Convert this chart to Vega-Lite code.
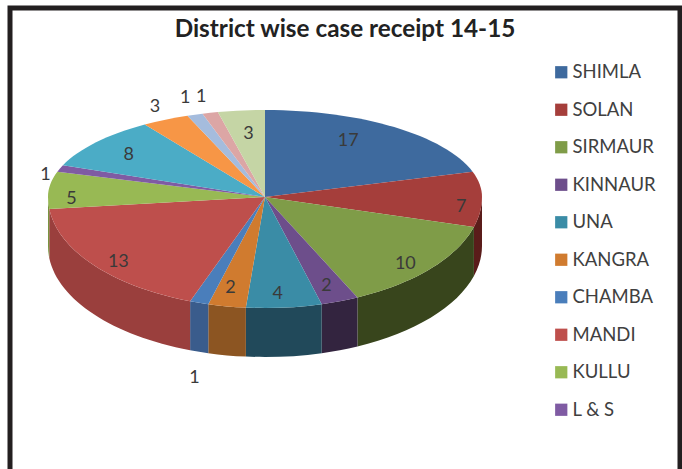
{
"$schema":"https://vega.github.io/schema/vega-lite/v6.json",
"autosize":"none",
"padding":{"left":10,"top":8,"right":2,"bottom":-4},
"width":670,"height":465,
"background":"white",
"view":{"stroke":"#231f20","strokeWidth":5},
"title":{"text":"District wise case receipt 14-15","font":"Lato","fontWeight":"bold","fontSize":24.3,"color":"#222222","anchor":"middle","dy":38,"dx":0},
"data":{"values":[
{"order":1,"district":"SHIMLA","value":17},
{"order":2,"district":"SOLAN","value":7},
{"order":3,"district":"SIRMAUR","value":10},
{"order":4,"district":"KINNAUR","value":2},
{"order":5,"district":"UNA","value":4},
{"order":6,"district":"KANGRA","value":2},
{"order":7,"district":"CHAMBA","value":1},
{"order":8,"district":"MANDI","value":13},
{"order":9,"district":"KULLU","value":5},
{"order":10,"district":"L & S","value":1},
{"order":11,"district":"Series 11","value":8},
{"order":12,"district":"Series 12","value":3},
{"order":13,"district":"Series 13","value":1},
{"order":14,"district":"Series 14","value":1},
{"order":15,"district":"Series 15","value":3}
]},
"transform":[
{"window":[{"op":"sum","field":"value","as":"cum"}],"sort":[{"field":"order","order":"ascending"}],"frame":[null,0]},
{"joinaggregate":[{"op":"sum","field":"value","as":"total"}]},
{"calculate":"(datum.cum-datum.value)/datum.total*2*PI","as":"ra"},
{"calculate":"datum.cum/datum.total*2*PI","as":"rb"},
{"calculate":"datum.ra-0.095*sin(datum.ra)","as":"a"},
{"calculate":"datum.rb-0.095*sin(datum.rb)","as":"b"},
{"calculate":"clamp(PI/2,datum.a,datum.b)","as":"c"},
{"calculate":"clamp(3*PI/2,datum.a,datum.b)","as":"d"},
{"calculate":"round(100*(-80+217*sin(datum.a)))/100+' '+round(100*(-43.5-(cos(datum.a)>0?87:111)*cos(datum.a)))/100","as":"pa"},
{"calculate":"round(100*(-80+217*sin(datum.c)))/100+' '+round(100*(-43.5-(cos(datum.c)>0?87:111)*cos(datum.c)))/100","as":"pc"},
{"calculate":"round(100*(-80+217*sin(datum.d)))/100+' '+round(100*(-43.5-(cos(datum.d)>0?87:111)*cos(datum.d)))/100","as":"pd"},
{"calculate":"round(100*(-80+217*sin(datum.b)))/100+' '+round(100*(-43.5-(cos(datum.b)>0?87:111)*cos(datum.b)))/100","as":"pb"},
{"calculate":"'M -80 -43.5 L '+datum.pa+' A 217 87 0 0 1 '+datum.pc+' A 217 111 0 0 1 '+datum.pd+' A 217 87 0 0 1 '+datum.pb+' Z'","as":"topPath"},
{"calculate":"clamp(datum.a,PI/2,3*PI/2)","as":"wa"},
{"calculate":"clamp(datum.b,PI/2,3*PI/2)","as":"wb"},
{"calculate":"round(100*(-80+217*sin(datum.wa)))/100","as":"wax"},
{"calculate":"round(100*(-80+217*sin(datum.wb)))/100","as":"wbx"},
{"calculate":"round(-111*cos(datum.wa)*100)/100","as":"way"},
{"calculate":"round(-111*cos(datum.wb)*100)/100","as":"wby"},
{"calculate":"'M '+datum.wax+' '+(datum.way-43.5)+' A 217 111 0 0 1 '+datum.wbx+' '+(datum.wby-43.5)+' L '+datum.wbx+' '+(datum.wby+5.5)+' A 217 111 0 0 0 '+datum.wax+' '+(datum.way+5.5)+' Z'","as":"wallPath"},
{"calculate":"(datum.ra+datum.rb)/2","as":"m"},
{"calculate":"({'SHIMLA':0.61,'SOLAN':0.91,'SIRMAUR':0.9,'KINNAUR':0.9,'UNA':0.75,'KANGRA':0.98,'CHAMBA':1.16,'MANDI':0.9,'KULLU':0.89,'L & S':1.04,'Series 11':0.76,'Series 12':1.01,'Series 13':1.03,'Series 14':1.05,'Series 15':0.61})[datum.district]","as":"fx"},
{"calculate":"({'SHIMLA':0.85,'SOLAN':0.9,'SIRMAUR':0.85,'KINNAUR':0.83,'UNA':0.86,'KANGRA':0.82,'CHAMBA':1.68,'MANDI':0.86,'KULLU':0.9,'L & S':1.15,'Series 11':0.89,'Series 12':1.21,'Series 13':1.24,'Series 14':1.21,'Series 15':0.75})[datum.district]","as":"fy"},
{"calculate":"254.5+217*datum.fx*sin(datum.m)","as":"lx"},
{"calculate":"188.5-(cos(datum.m)>0?87:111)*datum.fy*cos(datum.m)","as":"ly"}
],
"layer":[
{"mark":{"type":"point","filled":true,"size":4,"opacity":1,"strokeWidth":0},
 "encoding":{
  "shape":{"field":"wallPath","type":"nominal","scale":null,"legend":null},
  "color":{"field":"district","type":"nominal","sort":null,"legend":null,
   "scale":{"domain":["SHIMLA","SOLAN","SIRMAUR","KINNAUR","UNA","KANGRA","CHAMBA","MANDI","KULLU","L & S","Series 11","Series 12","Series 13","Series 14","Series 15"],
   "range":["#25405f","#5a1c1a","#38451c","#33243f","#21495a","#8c5522","#3a5c8c","#9a3f3d","#7a9440","#5d4379","#2f7f96","#b06a2c","#7a90b0","#a87c7b","#95a57a"]}}}},
{"mark":{"type":"point","filled":true,"size":4,"opacity":1,"strokeWidth":0},
 "encoding":{
  "shape":{"field":"topPath","type":"nominal","scale":null,"legend":null},
  "color":{"field":"district","type":"nominal","sort":null,
   "scale":{"domain":["SHIMLA","SOLAN","SIRMAUR","KINNAUR","UNA","KANGRA","CHAMBA","MANDI","KULLU","L & S","Series 11","Series 12","Series 13","Series 14","Series 15"],
   "range":["#3e6a9e","#a53e3b","#7f9c48","#6d4e8b","#3a8ca6","#d07b2f","#4a7ebb","#be4f4c","#98b954","#7f5ba3","#4bacc6","#f79646","#a5bcdd","#dca6a5","#c5d5a5"]},
   "legend":{"values":["SHIMLA","SOLAN","SIRMAUR","KINNAUR","UNA","KANGRA","CHAMBA","MANDI","KULLU","L & S"],"title":null,"orient":"none","legendX":542,"legendY":55,"symbolType":"square","symbolSize":150,"symbolStrokeWidth":0,"symbolOpacity":1,"labelFont":"Lato","labelFontSize":18.5,"labelColor":"#404040","rowPadding":18.5,"labelOffset":2}}}},
{"mark":{"type":"text","font":"Lato","fontSize":18,"color":"#3a3a3a","align":"center","baseline":"middle","dy":2},
 "encoding":{
  "x":{"field":"lx","type":"quantitative","scale":null},
  "y":{"field":"ly","type":"quantitative","scale":null},
  "text":{"field":"value","type":"quantitative"}}}
],
"resolve":{"scale":{"color":"independent"}}
}
